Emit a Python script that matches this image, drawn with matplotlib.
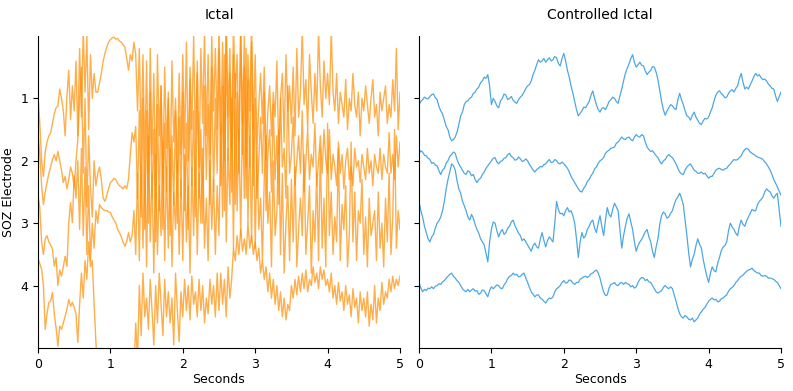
import numpy as np
import matplotlib
matplotlib.use("Agg")
import matplotlib.pyplot as plt

# ---------------- data ----------------
electrodes = [1, 2, 3, 4]
x_ticks = [0, 1, 2, 3, 4, 5]
duration = 5.0

# Ictal traces (orange), sampled every 0.025 s, values already offset by electrode
ictal_e1 = [
    0.96, 1.40, 2.00, 2.25, 1.85, 1.70, 1.60, 1.55, 1.40, 1.25, 1.15, 1.12, 0.85, 1.00, 1.20, 1.60, 0.96, 0.55, 1.34, 0.80,
    1.20, 0.40, 1.60, 0.20, 1.30, -0.10, 0.90, 0.00, 1.50, 0.30, 1.00, 0.60, 0.90, 0.90, 0.75, 0.60, 0.40, 0.28, 0.18, 0.10,
    0.06, 0.03, 0.02, 0.05, 0.04, 0.08, 0.10, 0.14, 0.18, 0.35, 0.55, 0.30, 0.40, 0.10, 0.30, 1.20, 0.20, 1.80, 0.30, 2.00,
    0.40, 2.20, 0.20, 1.90, 0.60, 2.40, 0.30, 1.60, 0.80, 2.30, 0.50, 1.80, 0.90, 2.50, 0.40, 1.70, 1.00, 2.20, 0.60, 1.90,
    0.30, 1.80, 0.10, 2.00, 0.50, 1.50, 0.00, 1.70, 0.40, 2.10, 0.20, 1.40, -0.10, 1.60, 0.30, 1.90, 0.00, 1.20, 0.20, 1.50,
    -0.20, 1.60, 0.10, 2.00, -0.30, 1.30, 0.20, 1.80, -0.20, 1.00, 0.30, 1.70, -0.10, 1.40, 0.00, 2.10, 0.30, 1.20, -0.20, 1.50,
    0.30, 1.80, 1.10, 0.60, 1.40, 0.50, 2.00, 1.20, 0.80, 1.60, 0.90, 1.30, 0.40, 1.90, 1.00, 0.60, 1.70, 0.30, 1.20, 0.80,
    1.40, 0.50, 1.60, 0.20, 1.30, 0.90, -0.10, 1.10, 0.70, 1.50, 0.30, 0.90, 1.40, 0.60, 1.20, -0.10, 0.80, 1.30, 0.40, 1.00,
    0.60, 1.10, -0.10, 0.90, 1.20, 0.60, 1.40, 0.90, 1.10, 1.30, 0.70, 1.50, 1.00, 1.20, 0.60, 1.10, 1.30, 0.90, 1.60, 1.00,
    1.20, 0.80, 1.10, 1.40, 1.00, 0.70, 1.30, 1.10, 1.60, 0.90, 1.20, 1.00, 0.80, 1.40, 1.10, 1.30, 0.70, 1.20, 0.20, 1.50, 0.90,
]
ictal_e2 = [
    1.55, 1.90, 2.40, 2.70, 2.50, 2.35, 2.20, 2.10, 1.98, 1.90, 2.00, 1.85, 2.00, 2.15, 2.35, 2.25, 2.45, 2.30, 2.10, 2.20,
    2.42, 2.00, 1.67, 1.00, 0.50, 2.20, 1.00, 2.74, 1.60, 2.42, 2.90, 2.00, 2.40, 2.20, 2.10, 2.30, 2.60, 2.65, 2.55, 2.45,
    2.35, 2.32, 2.28, 2.30, 2.36, 2.40, 2.42, 2.45, 2.40, 2.45, 2.30, 1.90, 1.55, 1.70, 1.45, 2.60, 1.20, 2.90, 1.00, 3.10,
    1.20, 3.00, 0.90, 2.60, 1.50, 3.30, 1.10, 2.80, 0.80, 3.10, 1.40, 2.50, 1.00, 3.20, 1.60, 2.70, 1.20, 3.00, 1.30, 2.60,
    0.90, 2.80, 1.40, 3.10, 0.70, 2.40, 1.20, 2.90, 0.60, 2.60, 1.50, 3.00, 0.80, 2.30, 1.10, 2.70, 0.50, 2.50, 1.00, 2.20,
    0.20, 2.40, 0.80, 2.80, 0.00, 2.00, 0.60, 2.50, 0.30, 2.70, 0.90, 2.20, -0.20, 1.90, 0.50, 2.60, 0.70, 2.10, 0.10, 2.40,
    1.00, 2.60, 2.00, 1.30, 2.20, 0.90, 2.80, 1.90, 1.50, 2.50, 1.10, 2.30, 1.60, 2.70, 1.00, 2.10, 1.80, 2.60, 0.80, 2.20,
    1.90, 1.30, 2.40, 2.00, 1.60, 2.20, 1.20, 2.50, 2.00, 1.50, 2.30, 1.90, 2.10, 1.40, 2.40, 2.00, 1.60, 2.20, 1.50, 2.00,
    2.20, 1.50, 2.30, 1.90, 2.10, 2.40, 1.70, 2.20, 1.90, 2.45, 2.00, 1.80, 2.30, 2.10, 2.40, 1.80, 2.10, 2.00, 2.35, 1.90,
    2.10, 2.30, 1.80, 2.20, 2.00, 2.40, 1.90, 2.10, 2.20, 1.80, 2.30, 1.90, 2.10, 2.20, 1.55, 2.20, 1.90, 2.30, 1.60, 2.10, 1.70,
]
ictal_e3 = [
    2.56, 2.75, 3.30, 3.50, 3.25, 3.20, 3.30, 3.35, 3.42, 3.69, 3.55, 4.00, 3.75, 3.85, 3.70, 3.53, 3.69, 2.99, 2.67, 2.99,
    2.24, 2.60, 2.00, 3.10, 1.80, 3.20, 2.10, 3.50, 2.40, 3.60, 3.00, 3.40, 2.80, 3.00, 2.70, 2.75, 2.78, 2.80, 2.80, 2.82,
    2.83, 2.90, 2.95, 3.00, 3.10, 3.15, 3.22, 3.30, 3.37, 3.30, 3.15, 3.30, 3.20, 2.80, 3.50, 2.20, 3.60, 1.80, 3.40, 2.00,
    3.70, 1.60, 3.30, 2.20, 3.80, 1.90, 3.50, 2.40, 3.20, 1.70, 3.60, 2.10, 3.40, 1.80, 3.70, 2.50, 3.10, 2.00, 3.50, 2.30,
    3.60, 1.90, 3.30, 2.40, 3.80, 2.10, 3.20, 1.70, 3.50, 2.20, 3.00, 1.80, 3.40, 2.60, 3.60, 2.00, 3.10, 2.30, 3.50, 2.40,
    3.20, 1.40, 2.90, 0.30, 3.30, 1.80, 2.70, 1.00, 3.40, 0.60, 2.80, 1.50, 3.20, 1.20, 2.60, 0.20, 3.00, 1.60, 3.30, 1.10,
    3.40, 1.80, 3.10, 2.60, 3.60, 2.30, 1.60, 3.00, 2.50, 3.70, 2.00, 3.20, 2.80, 1.50, 3.50, 2.20, 3.80, 3.00, 2.40, 3.60,
    2.30, 3.30, 2.10, 3.70, 3.10, 2.60, 3.20, 1.90, 3.50, 3.00, 2.40, 3.80, 2.80, 3.30, 2.20, 3.60, 1.80, 3.40, 2.60, 3.70,
    1.40, 3.20, 2.50, 3.50, 2.90, 3.30, 1.80, 3.60, 2.70, 3.10, 2.40, 3.70, 3.20, 1.70, 3.30, 2.50, 3.60, 2.80, 3.00, 2.30,
    3.50, 2.90, 3.70, 2.60, 3.20, 3.00, 2.80, 3.60, 2.50, 3.40, 3.00, 3.70, 2.60, 3.30, 2.20, 3.50, 2.90, 1.50, 3.40, 2.80, 3.10,
]
ictal_e4 = [
    3.57, 3.65, 3.74, 4.00, 4.70, 4.45, 4.27, 4.25, 4.11, 4.45, 4.68, 4.97, 4.65, 4.70, 4.60, 4.49, 4.38, 4.22, 4.33, 4.27,
    4.35, 4.45, 4.91, 4.30, 3.80, 4.20, 3.60, 3.90, 3.30, 3.70, 3.60, 4.30, 4.90, 5.40, 5.60, 5.60, 5.60, 5.60, 5.60, 5.60,
    5.60, 5.60, 5.60, 5.60, 5.60, 5.60, 5.60, 5.60, 5.60, 5.60, 5.60, 5.60, 5.60, 5.40, 4.60, 5.20, 4.00, 4.80, 3.80, 4.50,
    4.20, 4.70, 3.90, 4.40, 4.95, 4.00, 4.60, 3.80, 4.30, 4.80, 3.90, 4.50, 4.10, 4.60, 4.20, 4.95, 3.80, 4.40, 4.90, 4.10,
    4.50, 3.90, 4.40, 4.00, 4.55, 3.85, 4.30, 4.10, 4.50, 3.90, 4.40, 4.00, 4.60, 4.20, 4.45, 3.90, 4.30, 4.00, 4.50, 3.80,
    4.40, 3.80, 4.30, 3.90, 4.50, 3.70, 4.20, 3.90, 3.40, 3.60, 3.20, 3.50, 3.10, 3.45, 3.25, 3.50, 3.00, 3.40, 3.20, 3.50,
    3.30, 3.60, 3.40, 3.80, 3.60, 3.90, 3.70, 4.10, 3.80, 4.20, 3.90, 4.30, 4.00, 4.40, 4.10, 4.50, 4.20, 4.55, 4.30, 4.40,
    4.00, 4.20, 3.90, 4.15, 3.85, 4.10, 3.80, 4.05, 3.75, 4.10, 3.90, 4.00, 3.70, 3.95, 3.80, 4.05, 3.70, 3.90, 3.75, 4.00,
    3.90, 4.10, 3.80, 4.20, 4.00, 4.30, 3.95, 4.25, 4.10, 4.40, 4.00, 4.30, 4.15, 4.50, 4.05, 4.35, 4.20, 4.60, 4.10, 4.40,
    4.20, 4.50, 4.10, 4.65, 4.30, 4.55, 4.00, 4.60, 4.20, 4.40, 3.95, 4.30, 4.10, 4.20, 3.90, 4.10, 3.85, 4.05, 3.90, 4.00, 3.85,
]

# Controlled ictal traces (blue), sampled every 0.025 s
ctrl_e1 = [
    1.10, 1.05, 1.02, 0.98, 1.00, 1.01, 0.97, 0.94, 0.93, 0.99, 1.02, 1.13, 1.20, 1.25, 1.35, 1.45, 1.50, 1.62, 1.68, 1.66,
    1.62, 1.54, 1.42, 1.28, 1.22, 1.10, 1.05, 1.04, 1.00, 0.98, 0.92, 0.90, 0.85, 0.82, 0.75, 0.72, 0.66, 0.68, 0.62, 0.80,
    1.10, 1.00, 1.05, 1.12, 1.15, 1.04, 1.00, 0.93, 0.95, 1.02, 1.00, 0.97, 1.03, 1.06, 1.08, 1.02, 0.98, 0.95, 0.90, 0.84,
    0.80, 0.78, 0.72, 0.62, 0.55, 0.46, 0.38, 0.42, 0.40, 0.36, 0.42, 0.38, 0.35, 0.40, 0.38, 0.33, 0.35, 0.44, 0.48, 0.36,
    0.28, 0.40, 0.55, 0.66, 0.80, 0.92, 1.05, 1.18, 1.28, 1.24, 1.20, 1.14, 1.15, 1.10, 1.05, 0.95, 0.88, 1.00, 1.10, 1.18,
    1.22, 1.16, 1.15, 1.18, 1.12, 1.05, 1.02, 0.98, 1.00, 1.05, 1.08, 0.96, 0.85, 0.72, 0.60, 0.52, 0.45, 0.36, 0.30, 0.42,
    0.50, 0.46, 0.42, 0.47, 0.48, 0.56, 0.62, 0.58, 0.55, 0.49, 0.50, 0.58, 0.70, 0.88, 1.05, 1.18, 1.27, 1.20, 1.15, 1.10,
    1.12, 1.16, 1.18, 1.02, 0.92, 1.02, 1.10, 1.20, 1.28, 1.30, 1.35, 1.27, 1.22, 1.30, 1.35, 1.40, 1.42, 1.36, 1.32, 1.33,
    1.30, 1.22, 1.15, 1.04, 0.95, 0.90, 0.88, 0.92, 0.95, 0.99, 0.98, 0.92, 0.88, 0.86, 0.90, 0.84, 0.80, 0.68, 0.60, 0.74,
    0.85, 0.82, 0.85, 0.78, 0.72, 0.65, 0.60, 0.64, 0.62, 0.67, 0.70, 0.69, 0.72, 0.77, 0.80, 0.84, 0.85, 0.96, 1.05, 0.97, 0.90,
]
ctrl_e2 = [
    1.88, 1.84, 1.86, 1.91, 1.92, 1.96, 1.98, 2.04, 2.03, 2.07, 2.08, 2.16, 2.22, 2.15, 2.12, 2.04, 2.00, 1.93, 1.90, 1.86,
    1.88, 1.98, 2.05, 2.10, 2.15, 2.20, 2.22, 2.16, 2.18, 2.24, 2.22, 2.30, 2.35, 2.30, 2.28, 2.22, 2.18, 2.12, 2.08, 2.04,
    2.00, 1.96, 1.95, 2.02, 2.05, 2.01, 2.00, 1.96, 1.95, 1.90, 1.88, 1.93, 1.95, 1.99, 1.98, 1.94, 1.97, 2.01, 2.00, 1.97,
    2.00, 2.06, 2.10, 2.15, 2.18, 2.14, 2.12, 2.09, 2.10, 2.06, 2.05, 2.01, 1.98, 2.03, 2.02, 1.98, 2.00, 2.04, 2.05, 2.02,
    2.05, 2.08, 2.12, 2.18, 2.25, 2.30, 2.35, 2.40, 2.45, 2.49, 2.50, 2.44, 2.40, 2.33, 2.30, 2.24, 2.20, 2.13, 2.10, 2.04,
    2.00, 1.98, 1.95, 1.88, 1.85, 1.83, 1.80, 1.79, 1.78, 1.72, 1.70, 1.66, 1.62, 1.65, 1.66, 1.63, 1.62, 1.66, 1.68, 1.62,
    1.58, 1.61, 1.62, 1.58, 1.60, 1.70, 1.78, 1.82, 1.85, 1.84, 1.88, 1.92, 1.95, 2.01, 2.05, 2.00, 1.98, 1.93, 1.90, 1.93,
    1.95, 2.00, 2.05, 2.12, 2.18, 2.21, 2.22, 2.15, 2.10, 2.07, 2.05, 2.10, 2.15, 2.17, 2.20, 2.20, 2.18, 2.21, 2.20, 2.24,
    2.28, 2.25, 2.25, 2.20, 2.15, 2.13, 2.12, 2.14, 2.15, 2.13, 2.12, 2.08, 2.05, 2.01, 1.98, 1.99, 1.98, 1.95, 1.92, 1.86,
    1.82, 1.80, 1.82, 1.86, 1.88, 1.90, 1.92, 1.94, 1.95, 1.96, 1.98, 2.02, 2.05, 2.10, 2.15, 2.22, 2.30, 2.36, 2.42, 2.49, 2.55,
]
ctrl_e3 = [
    2.65, 2.80, 2.90, 3.05, 3.15, 3.25, 3.30, 3.22, 3.18, 3.08, 3.00, 2.96, 2.90, 2.80, 2.65, 2.45, 2.30, 2.18, 2.05, 2.08,
    2.15, 2.32, 2.45, 2.52, 2.65, 2.72, 2.80, 2.90, 2.95, 2.86, 2.92, 3.02, 3.10, 3.16, 3.25, 3.30, 3.35, 3.48, 3.62, 3.30,
    3.10, 2.98, 3.00, 3.12, 3.22, 3.14, 3.10, 3.18, 3.15, 3.08, 3.05, 2.98, 2.95, 3.04, 3.10, 3.16, 3.20, 3.28, 3.25, 3.30,
    3.35, 3.40, 3.45, 3.36, 3.32, 3.38, 3.40, 3.26, 3.15, 3.28, 3.38, 3.28, 3.22, 3.26, 3.30, 3.00, 2.65, 2.78, 2.85, 2.84,
    2.88, 2.80, 2.75, 2.82, 2.80, 2.88, 3.00, 3.25, 3.55, 3.30, 3.15, 3.24, 3.20, 3.10, 3.05, 2.98, 2.95, 3.08, 3.15, 3.00,
    2.88, 3.05, 3.20, 2.95, 2.75, 2.86, 2.90, 2.78, 2.68, 2.74, 2.80, 3.10, 3.40, 3.20, 3.05, 2.92, 2.85, 2.98, 3.10, 3.30,
    3.45, 3.36, 3.30, 3.26, 3.20, 3.14, 3.10, 3.22, 3.30, 3.45, 3.55, 3.38, 3.25, 3.02, 2.88, 2.82, 2.85, 2.92, 2.90, 2.84,
    2.80, 2.70, 2.62, 2.58, 2.52, 2.60, 2.70, 2.95, 3.20, 3.48, 3.70, 3.58, 3.50, 3.36, 3.25, 3.34, 3.40, 3.58, 3.72, 3.85,
    3.95, 3.80, 3.70, 3.76, 3.78, 3.64, 3.55, 3.44, 3.38, 3.36, 3.30, 3.12, 3.00, 3.06, 3.10, 3.16, 3.20, 3.05, 2.95, 3.02,
    3.05, 2.96, 2.90, 2.84, 2.78, 2.80, 2.80, 2.70, 2.65, 2.62, 2.58, 2.50, 2.45, 2.48, 2.50, 2.56, 2.60, 2.55, 2.52, 2.80, 3.05,
]
ctrl_e4 = [
    3.95, 4.04, 4.10, 4.06, 4.08, 4.04, 4.05, 4.02, 4.05, 4.01, 4.00, 3.97, 3.98, 3.94, 3.92, 3.88, 3.85, 3.82, 3.80, 3.85,
    3.88, 3.92, 3.95, 4.00, 4.05, 4.08, 4.10, 4.06, 4.10, 4.07, 4.05, 4.09, 4.08, 4.14, 4.12, 4.07, 4.08, 4.13, 4.18, 4.08,
    4.02, 4.05, 4.02, 3.99, 4.00, 4.04, 4.05, 3.99, 3.95, 3.89, 3.85, 3.84, 3.80, 3.83, 3.82, 3.86, 3.85, 3.82, 3.80, 3.88,
    3.95, 4.03, 4.10, 4.14, 4.18, 4.15, 4.15, 4.20, 4.22, 4.25, 4.28, 4.23, 4.20, 4.21, 4.18, 4.10, 4.05, 4.03, 4.00, 3.95,
    3.92, 3.96, 3.95, 3.91, 3.92, 3.96, 3.98, 3.95, 3.95, 3.90, 3.88, 3.86, 3.85, 3.87, 3.85, 3.81, 3.80, 3.77, 3.75, 3.80,
    3.88, 4.00, 4.10, 4.16, 4.15, 4.04, 3.98, 3.97, 3.95, 3.99, 4.00, 3.96, 3.95, 3.98, 3.95, 3.97, 3.98, 4.02, 4.00, 4.04,
    4.02, 3.95, 3.90, 3.87, 3.88, 3.92, 3.90, 3.94, 3.95, 4.00, 4.05, 4.10, 4.12, 4.10, 4.08, 4.03, 4.00, 4.03, 4.05, 4.02,
    4.05, 4.15, 4.25, 4.36, 4.45, 4.50, 4.52, 4.48, 4.50, 4.54, 4.55, 4.52, 4.58, 4.55, 4.52, 4.46, 4.42, 4.38, 4.35, 4.30,
    4.25, 4.22, 4.20, 4.23, 4.22, 4.26, 4.25, 4.21, 4.20, 4.17, 4.15, 4.09, 4.05, 4.03, 4.00, 3.95, 3.92, 3.88, 3.85, 3.83,
    3.80, 3.77, 3.75, 3.74, 3.72, 3.76, 3.78, 3.80, 3.80, 3.84, 3.85, 3.84, 3.85, 3.88, 3.88, 3.89, 3.90, 3.93, 3.95, 4.00, 4.05,
]

ictal = [ictal_e1, ictal_e2, ictal_e3, ictal_e4]
controlled = [ctrl_e1, ctrl_e2, ctrl_e3, ctrl_e4]

# ---------------- plot ----------------
fig = plt.figure(figsize=(7.93, 3.91), dpi=100)
ax1 = fig.add_axes([0.0479, 0.110, 0.4565, 0.798])
ax2 = fig.add_axes([0.5284, 0.110, 0.4565, 0.798])

orange = "#ff8c00"
blue = "#3a9ee0"

for tr in ictal:
    t = np.linspace(0, duration, len(tr))
    ax1.plot(t, tr, color=orange, lw=1.0, alpha=0.7)
for tr in controlled:
    t = np.linspace(0, duration, len(tr))
    ax2.plot(t, tr, color=blue, lw=0.9, alpha=0.9)

for ax, title in [(ax1, "Ictal"), (ax2, "Controlled Ictal")]:
    ax.set_xlim(0, duration)
    ax.set_ylim(5, 0)
    ax.set_xticks(x_ticks)
    ax.set_yticks(electrodes)
    ax.spines["top"].set_visible(False)
    ax.spines["right"].set_visible(False)
    ax.set_title(title, fontsize=10, pad=12)
    ax.set_xlabel("Seconds", fontsize=9, labelpad=2)
    ax.tick_params(labelsize=9)

ax1.set_yticklabels([str(e) for e in electrodes])
ax2.set_yticklabels([])
ax1.set_ylabel("SOZ Electrode", fontsize=9)

fig.savefig("out.png", dpi=100)
